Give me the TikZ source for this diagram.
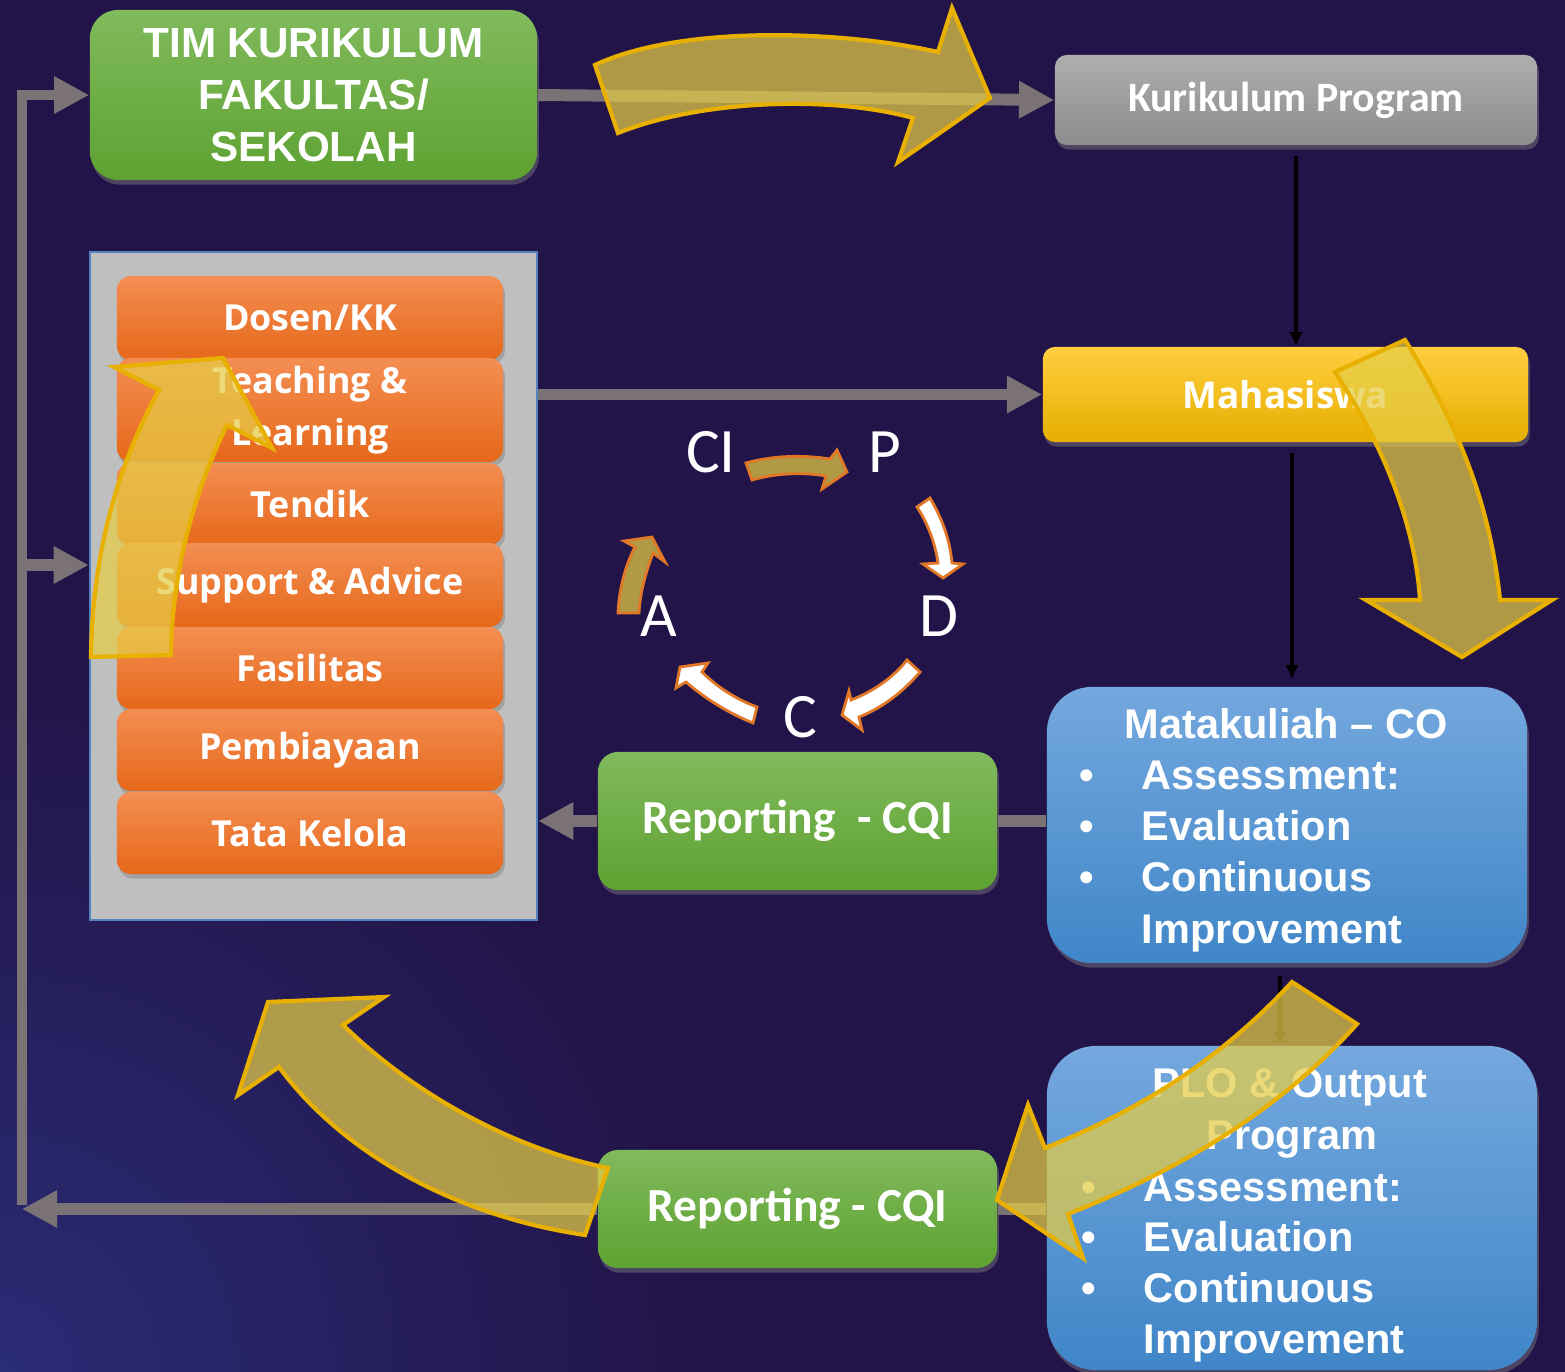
\documentclass[tikz,border=0pt]{standalone}
\usepackage{fontspec}
\setmainfont{Liberation Sans}
\newfontfamily\calibfont{Carlito}
\newfontfamily\opensfont{Open Sans}
\usetikzlibrary{arrows.meta,shadows}

\definecolor{bgpurple}{RGB}{34,20,72}
\definecolor{bgblue}{RGB}{42,44,118}
\definecolor{grnT}{RGB}{128,186,92}
\definecolor{grnB}{RGB}{94,162,50}
\definecolor{gryT}{RGB}{174,174,174}
\definecolor{gryB}{RGB}{140,140,140}
\definecolor{orgT}{RGB}{244,142,82}
\definecolor{orgB}{RGB}{230,104,26}
\definecolor{ylwT}{RGB}{255,206,64}
\definecolor{ylwM}{RGB}{255,192,0}
\definecolor{ylwB}{RGB}{230,174,0}
\definecolor{bluT}{RGB}{116,168,222}
\definecolor{bluB}{RGB}{64,134,200}
\definecolor{framegray}{RGB}{191,191,191}
\definecolor{frameline}{RGB}{84,130,190}
\definecolor{linkgray}{RGB}{122,114,117}
\definecolor{goldfill}{RGB}{230,205,70}
\definecolor{goldline}{RGB}{232,176,0}
\definecolor{pdcagold}{RGB}{176,154,69}
\definecolor{pdcaline}{RGB}{224,120,40}

\tikzset{
  shadowed/.style={drop shadow={shadow xshift=0.5pt,shadow yshift=-1.3pt,opacity=0.45}},
  greenbox/.style={shadowed, top color=grnT, bottom color=grnB, text=white, align=center, inner sep=0pt},
  greybox/.style={shadowed, rounded corners=3.4pt, top color=gryT, bottom color=gryB, text=white, inner sep=0pt},
  unitbox/.style={shadowed, rounded corners=4pt, top color=orgT, bottom color=orgB, text=white, align=center,
    inner sep=0pt, minimum width=3.86cm, font=\opensfont\bfseries\fontsize{10.2}{14.8}\selectfont},
  yellowbox/.style={shadowed, rounded corners=3.4pt, top color=ylwT, middle color=ylwM, bottom color=ylwB, text=white, inner sep=0pt},
  bluebox/.style={shadowed, top color=bluT, bottom color=bluB, inner sep=0pt},
  listfont/.style={text=white, inner sep=0pt, font=\bfseries\fontsize{11.8}{14.5}\selectfont},
  listhead/.style={listfont, anchor=base},
  listitem/.style={listfont, anchor=base west},
  listdot/.style={listfont, anchor=base},
  repfont/.style={font=\calibfont\bfseries\fontsize{13.5}{16}\selectfont},
  pdca/.style={text=white, inner sep=0pt, anchor=base, font=\calibfont\fontsize{18}{20}\selectfont},
  link/.style={draw=linkgray, line width=3.4pt, -{Triangle[length=10pt,width=10pt]}},
  linkline/.style={draw=linkgray, line width=3.4pt},
  blk/.style={draw=black, line width=1.3pt, -{Latex[length=4pt,width=4pt]}},
  bigarrow/.style={fill=goldfill, fill opacity=0.72, draw=goldline, line width=1.2pt, line join=miter},
  cyclegold/.style={fill=pdcagold, draw=pdcaline, line width=0.8pt, line join=miter},
  cyclewhite/.style={fill=white, draw=pdcaline, line width=0.8pt, line join=miter}
}

\begin{document}
\begin{tikzpicture}[x=0.01cm, y=-0.01cm]
  \useasboundingbox (0,0) rectangle (1565,1372);
  \fill[bgpurple] (0,0) rectangle (1565,1372);
  \begin{scope}
    \clip (0,0) rectangle (1565,1372);
    \shade[inner color=bgblue, outer color=bgpurple] (0,1372) circle (700);
  \end{scope}

  % top row
  \node[greenbox, rounded corners=8pt, minimum width=4.47cm, minimum height=1.70cm,
    font=\bfseries\fontsize{12}{14.8}\selectfont] (tim) at (313.5,95) {TIM KURIKULUM\\FAKULTAS/\\SEKOLAH};
  \node[greybox, minimum width=4.82cm, minimum height=0.90cm,
    font=\calibfont\bfseries\fontsize{11.9}{15}\selectfont] (kp) at (1296,100) {Kurikulum Program};

  % unit stack
  \node[fill=framegray, draw=frameline, line width=0.6pt, minimum width=4.47cm, minimum height=6.68cm] (box) at (313.5,586) {};
  \foreach \y/\h/\t/\n in {318/0.84/{Dosen/KK}/dos, 410/1.04/{Teaching \&\\Learning}/tl, 504/0.82/Tendik/tdk,
      585/0.84/{Support \& Advice}/sup, 668/0.82/Fasilitas/fas, 750/0.82/Pembiayaan/bia, 833/0.82/{Tata Kelola}/tk}
    \node[unitbox, minimum height=\h cm] (\n) at (310,\y) {\t};

  % right column
  \node[yellowbox, minimum width=4.85cm, minimum height=0.95cm,
    font=\opensfont\bfseries\fontsize{10.5}{13}\selectfont] (mhs) at (1285.5,394.5) {Mahasiswa};
  \node[bluebox, rounded corners=12.8pt, minimum width=4.80cm, minimum height=2.76cm] (mk) at (1287,825) {};
  \node[listhead] (mk-h) at (1286,738) {Matakuliah – CO};
  \foreach \y/\t/\i in {789/Assessment:/1, 840/Evaluation/2, 891/Continuous/3}{
    \node[listdot] (mk-d\i) at (1087,\y) {•};
    \node[listitem] (mk-\i) at (1141,\y) {\t};
  }
  \node[listitem] (mk-4) at (1141,943) {Improvement};

  \node[bluebox, rounded corners=14pt, minimum width=4.90cm, minimum height=3.24cm] (plo) at (1292,1208) {};
  \node[listhead] (plo-h1) at (1290,1097) {PLO \& Output};
  \node[listhead] (plo-h2) at (1292,1149) {Program};
  \foreach \y/\t/\i in {1201/Assessment:/1, 1251/Evaluation/2, 1302/Continuous/3}{
    \node[listdot] (plo-d\i) at (1089,\y) {•};
    \node[listitem] (plo-\i) at (1143,\y) {\t};
  }
  \node[listitem] (plo-4) at (1143,1353) {Improvement};

  % reporting
  \node[greenbox, repfont, rounded corners=5.7pt, minimum width=3.99cm, minimum height=1.38cm] (rep1) at (797.5,821) {Reporting\ \ - CQI};
  \node[greenbox, repfont, rounded corners=5.7pt, minimum width=3.99cm, minimum height=1.18cm] (rep2) at (797.5,1209) {Reporting - CQI};

  % connectors
  \coordinate (lt) at (22,95);
  \coordinate (lm) at (22,565);
  \coordinate (lb) at (22,1209);
  \draw[link] (tim.east) -- (kp.west);
  \draw[link] (box.east |- mhs.west) -- (mhs.west);
  \draw[link] (rep1.west) -- (rep1.west -| box.east);
  \draw[linkline] (mk.west |- rep1.east) -- (rep1.east);
  \draw[linkline] (plo.west |- rep2.east) -- (rep2.east);
  \draw[link] (rep2.west) -- (lb);
  \draw[link, line width=3pt] ([yshift=1.2pt]lb) -- (lt) -- (tim.west);
  \draw[link] (lm) -- (lm -| box.west);
  \draw[blk, shorten <=2.8pt] (kp.south -| 1296,0) -- (mhs.north -| 1296,0);
  \draw[blk, shorten <=2.8pt, shorten >=2pt] (mhs.south -| 1292,0) -- (mk.north -| 1292,0);
  \draw[blk, shorten <=3.4pt] (mk.south -| 1280,0) -- (plo.north -| 1280,0);

  % PDCA cycle
  \node[pdca] (ci) at (711,472) {CI};
  \node[pdca] (p) at (885,472) {P};
  \node[pdca] (d) at (939,636) {D};
  \node[pdca] (c) at (800,737) {C};
  \node[pdca] (a) at (659,636) {A};
  \draw[cyclegold] (746,463) .. controls (775,455) and (805,455) .. (830,459) -- (837,450) -- (847,472)
    -- (822,489) -- (826,476) .. controls (805,472) and (775,473) .. (752,480) -- cycle;
  \draw[cyclewhite] (917,507) .. controls (927,522) and (935,542) .. (938,563) -- (923,564) -- (943,578)
    -- (963,564) -- (952,563) .. controls (950,540) and (942,518) .. (930,498) -- cycle;
  \draw[cyclewhite] (907,660) .. controls (893,678) and (872,692) .. (851,700) -- (849,691) -- (842,715)
    -- (862,730) -- (859,717) .. controls (882,708) and (903,692) .. (920,672) -- cycle;
  \draw[cyclewhite] (757,707) .. controls (738,700) and (718,688) .. (702,672) -- (708,663) -- (680,667)
    -- (676,688) -- (686,682) .. controls (703,697) and (728,713) .. (753,723) -- cycle;
  \draw[cyclegold] (618,613) .. controls (619,590) and (625,566) .. (635,547) -- (624,541) -- (652,537)
    -- (665,562) -- (653,553) .. controls (646,572) and (640,592) .. (639,613) -- cycle;

  % big flow arrows
  \draw[bigarrow] (595,65) .. controls (680,25) and (840,30) .. (938,52) -- (952,8) -- (990,98)
    -- (898,162) -- (913,118) .. controls (830,95) and (700,100) .. (618,133) -- cycle;
  \draw[bigarrow] (1335,372) .. controls (1380,440) and (1415,520) .. (1420,600) -- (1366,600) -- (1462,657)
    -- (1552,600) -- (1500,600) .. controls (1490,500) and (1455,420) .. (1405,340) -- cycle;
  \draw[bigarrow] (1292,982) .. controls (1220,1060) and (1140,1110) .. (1045,1148) -- (1028,1105) -- (997,1200)
    -- (1083,1258) -- (1068,1214) .. controls (1180,1170) and (1280,1110) .. (1357,1024) -- cycle;
  \draw[bigarrow] (608,1168) .. controls (520,1150) and (420,1100) .. (343,1025) -- (384,997) -- (268,1002)
    -- (238,1095) -- (279,1067) .. controls (340,1150) and (450,1215) .. (585,1235) -- cycle;
  \draw[bigarrow] (91,657) .. controls (92,560) and (115,470) .. (159,390) -- (114,367) -- (223,358)
    -- (272,448) -- (227,425) .. controls (195,490) and (172,570) .. (171,655) -- cycle;
\end{tikzpicture}
\end{document}
